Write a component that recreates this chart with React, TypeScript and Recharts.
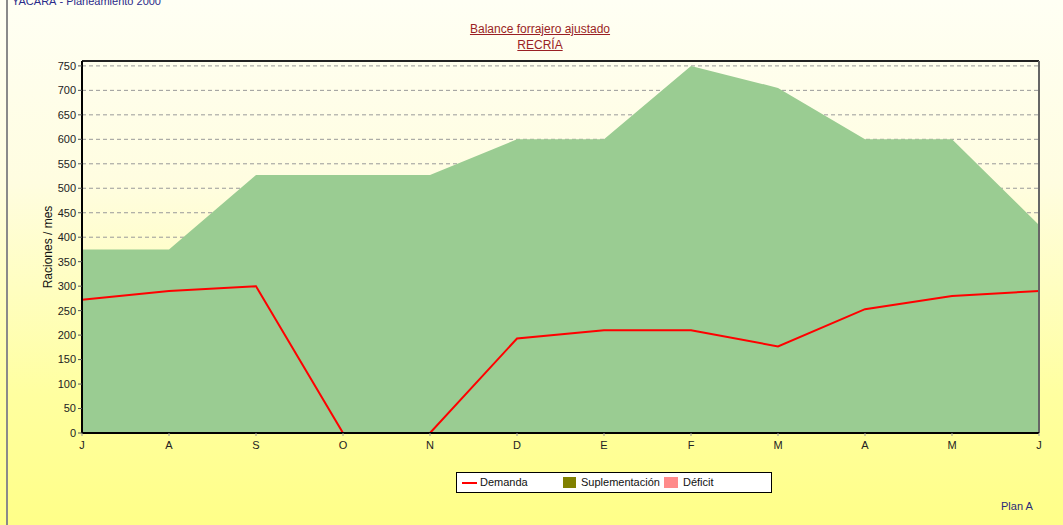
import React from 'react';
import {
  ComposedChart, Area, Line, XAxis, YAxis, CartesianGrid, ReferenceLine, Label,
} from 'recharts';

const months = ['J', 'A', 'S', 'O', 'N', 'D', 'E', 'F', 'M', 'A', 'M', 'J'];
const oferta = [375, 375, 527, 527, 527, 600, 600, 750, 705, 600, 600, 425];
const demanda = [272, 290, 300, 0, 0, 193, 210, 210, 177, 253, 280, 290];
const yTicks = [0, 50, 100, 150, 200, 250, 300, 350, 400, 450, 500, 550, 600, 650, 700, 750];

const data = months.map((m, i) => ({ idx: i, mes: m, oferta: oferta[i], demanda: demanda[i] }));
const xTicks = months.map((_, i) => i);

const FONT = '"Liberation Sans", Arial, sans-serif';

const LegendBox = () => (
  <div
    style={{
      position: 'absolute',
      left: 456,
      top: 472,
      width: 314,
      height: 19,
      background: '#ffffff',
      border: '1px solid #000',
      fontFamily: FONT,
      fontSize: 11,
      color: '#111',
      boxSizing: 'content-box',
    }}
  >
    <div style={{ position: 'absolute', left: 5, top: 9, width: 15, height: 2, background: '#ff0000' }} />
    <span style={{ position: 'absolute', left: 23, top: 3 }}>Demanda</span>
    <div style={{ position: 'absolute', left: 106, top: 4, width: 13, height: 11, background: '#808000' }} />
    <span style={{ position: 'absolute', left: 124, top: 3 }}>Suplementación</span>
    <div style={{ position: 'absolute', left: 207, top: 4, width: 14, height: 11, background: '#ff8a8a' }} />
    <span style={{ position: 'absolute', left: 226, top: 3 }}>Déficit</span>
  </div>
);

export default function App() {
  return (
    <div
      style={{
        position: 'absolute',
        left: 0,
        top: 0,
        width: 1063,
        height: 525,
        overflow: 'hidden',
        background: 'linear-gradient(to bottom, #fffff4 0%, #fffde0 35%, #ffffa0 75%, #ffff88 100%)',
        fontFamily: FONT,
      }}
    >
      <div style={{ position: 'absolute', left: 6, top: 0, width: 2, height: 525, background: '#8a8a8a' }} />
      <div style={{ position: 'absolute', left: 12, top: -5, fontSize: 11, color: '#2a2a8a', whiteSpace: 'nowrap' }}>
        YACARÁ - Planeamiento 2000
      </div>
      <div
        style={{
          position: 'absolute',
          left: 0,
          width: 1080,
          top: 21,
          textAlign: 'center',
          fontSize: 12,
          lineHeight: '16px',
          color: '#9a1f24',
          textDecoration: 'underline',
        }}
      >
        <div>Balance forrajero ajustado</div>
        <div>RECRÍA</div>
      </div>
      <div style={{ position: 'absolute', left: 1001, top: 500, fontSize: 11, color: '#2a2a7a' }}>Plan A</div>
      <div style={{ position: 'absolute', left: 0, top: 0 }}>
        <ComposedChart
          width={1063}
          height={525}
          data={data}
          margin={{ top: 61, right: 24, bottom: 72, left: 0 }}
        >
          <CartesianGrid vertical={false} stroke="#9a9a9a" strokeDasharray="4 3" />
          <XAxis
            dataKey="idx"
            type="number"
            domain={[0, 11]}
            ticks={xTicks}
            tickFormatter={(v: number) => months[v]}
            height={20}
            tickSize={3}
            tickMargin={5}
            axisLine={{ stroke: '#000', strokeWidth: 2 }}
            tickLine={{ stroke: '#999' }}
            tick={{ fontSize: 11, fill: '#222', fontFamily: FONT }}
            interval={0}
          />
          <YAxis
            type="number"
            domain={[0, 760]}
            ticks={yTicks}
            width={82}
            tickSize={4}
            tickMargin={2}
            interval={0}
            axisLine={{ stroke: '#000', strokeWidth: 2 }}
            tickLine={{ stroke: '#555' }}
            tick={{ fontSize: 11, fill: '#222', fontFamily: FONT }}
          >
            <Label
              content={() => (
                <text
                  x={52}
                  y={247}
                  transform="rotate(-90 52 247)"
                  textAnchor="middle"
                  fontSize={12}
                  fill="#111"
                  fontFamily={FONT}
                >
                  Raciones / mes
                </text>
              )}
            />
          </YAxis>
          <Area
            type="linear"
            dataKey="oferta"
            stroke="none"
            fill="#9acc92"
            fillOpacity={1}
            isAnimationActive={false}
            legendType="none"
          />
          <Line
            type="linear"
            dataKey="demanda"
            stroke="#ff0000"
            strokeWidth={2}
            dot={false}
            activeDot={false}
            isAnimationActive={false}
          />
          <ReferenceLine y={0} stroke="#bdbdbd" strokeDasharray="3 3" strokeWidth={1} />
          <ReferenceLine y={760} stroke="#222" strokeWidth={2} />
          <ReferenceLine x={11} stroke="#666" strokeWidth={2} />
        </ComposedChart>
      </div>
      <LegendBox />
    </div>
  );
}
